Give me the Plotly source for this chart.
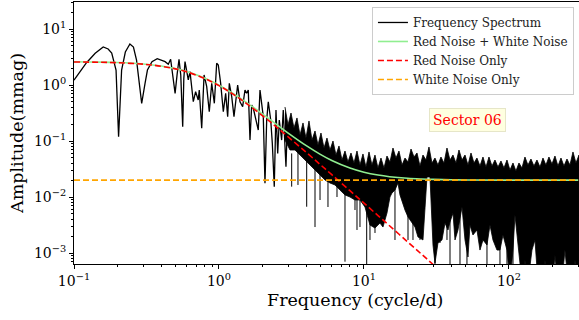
import plotly.graph_objects as go

# ---------------- data ----------------
# low/mid-frequency part of the amplitude spectrum (cycle/d, mmag)
spec_freq = [0.100, 0.122, 0.140, 0.159, 0.172, 0.182, 0.195, 0.203, 0.213, 0.226,
             0.243, 0.257, 0.270, 0.281, 0.293, 0.309, 0.321, 0.345, 0.375, 0.425,
             0.447, 0.464, 0.480, 0.498, 0.515, 0.530, 0.545, 0.562, 0.572, 0.583,
             0.614, 0.631, 0.665, 0.690, 0.719, 0.731, 0.760, 0.789, 0.823, 0.857,
             0.891, 0.929, 0.964, 0.989, 1.027, 1.071, 1.112, 1.148, 1.178, 1.224,
             1.269, 1.310, 1.345, 1.396, 1.456, 1.511, 1.552, 1.592, 1.636, 1.681,
             1.725, 1.800, 1.866, 1.918, 1.970, 2.021, 2.076, 2.133, 2.188, 2.274,
             2.332, 2.406, 2.472, 2.541, 2.605, 2.705, 2.775, 2.897, 2.958]
spec_amp = [1.22, 2.50, 3.68, 4.77, 4.40, 3.73, 1.85, 0.119, 1.85, 3.88,
            5.40, 4.77, 2.79, 1.23, 0.471, 1.07, 1.85, 2.61, 2.95, 2.61,
            2.34, 2.88, 1.50, 0.71, 1.60, 2.88, 1.50, 0.18, 1.30, 2.61,
            1.23, 1.73, 0.503, 0.76, 0.539, 0.815, 0.169, 1.51, 0.933, 0.333,
            1.07, 0.471, 2.44, 2.28, 1.07, 0.333, 0.71, 0.272, 1.07, 0.618,
            0.272, 0.539, 1.00, 0.503, 0.41, 0.815, 0.71, 0.815, 0.104, 0.44,
            0.384, 0.237, 0.157, 0.815, 0.41, 0.272, 0.0176, 0.237, 0.503, 0.237,
            0.091, 0.0153, 0.358, 0.06, 0.237, 0.104, 0.358, 0.0348, 0.18]

# dense high-frequency part: upper edge of the black band (local maxima / minima of the peaks)
top_freq = [2.852, 2.992, 3.138, 3.290, 3.451, 3.620, 3.797, 3.981, 4.176, 4.379,
            4.595, 4.818, 5.051, 5.300, 5.557, 5.829, 6.113, 6.411, 6.724, 7.053,
            7.396, 7.757, 8.136, 8.531, 8.949, 9.385, 9.842, 10.32, 10.83, 11.35,
            11.91, 12.49, 13.10, 13.74, 14.41, 15.11, 15.85, 16.62, 17.43, 18.29,
            19.18, 20.12, 21.10, 22.13, 23.21, 24.33, 25.52, 26.77, 28.07, 29.44,
            30.88, 32.38, 33.96, 35.62, 37.36, 39.20, 41.10, 43.11, 45.21, 47.43,
            49.75, 52.16, 54.71, 57.38, 60.15, 63.10, 66.17, 69.40, 72.79, 76.35,
            80.08, 83.99, 88.09, 92.38, 96.87, 101.6, 106.6, 111.7, 117.2, 122.9,
            128.9, 135.2, 141.8, 148.7, 156.0, 163.6, 171.6, 179.9, 188.7, 198.0,
            207.6, 217.7, 228.4, 239.5, 251.2, 263.4, 276.3, 289.8, 304.0]
top_amp = [0.405, 0.193, 0.316, 0.171, 0.258, 0.128, 0.210, 0.113, 0.228, 0.104,
           0.151, 0.0849, 0.139, 0.0750, 0.113, 0.0691, 0.100, 0.0562, 0.0815, 0.0458,
           0.0663, 0.0422, 0.0611, 0.0405, 0.0663, 0.0373, 0.0587, 0.0343, 0.0637, 0.0373,
           0.0562, 0.0330, 0.0497, 0.0330, 0.0540, 0.0422, 0.0750, 0.0497, 0.0663, 0.0373,
           0.0497, 0.0422, 0.0720, 0.0518, 0.0611, 0.0358, 0.0562, 0.0458, 0.0781, 0.0405,
           0.0497, 0.0373, 0.0518, 0.0405, 0.0750, 0.0458, 0.0562, 0.0405, 0.0691, 0.0458,
           0.0562, 0.0373, 0.0611, 0.0405, 0.0497, 0.0358, 0.0518, 0.0343, 0.0518, 0.0358,
           0.0458, 0.0343, 0.0440, 0.0330, 0.0458, 0.0303, 0.0405, 0.0291, 0.0405, 0.0330,
           0.0518, 0.0373, 0.0477, 0.0358, 0.0458, 0.0343, 0.0497, 0.0373, 0.0518, 0.0388,
           0.0540, 0.0358, 0.0497, 0.0358, 0.0477, 0.0373, 0.0637, 0.0405, 0.0562]

# lower edge of the black band
bot_freq = [2.852, 3.088, 3.343, 3.620, 3.920, 4.244, 4.595, 4.975, 5.383, 5.829,
            6.310, 6.832, 7.396, 8.008, 8.670, 9.385, 10.16, 11.00, 11.91, 12.89,
            13.52, 14.41, 15.11, 15.60, 16.36, 17.16, 17.71, 18.29, 19.18, 20.12,
            20.76, 21.77, 22.48, 23.58, 24.33, 25.52, 26.34, 27.20, 28.52, 29.92,
            30.88, 32.38, 34.51, 36.20, 37.96, 39.20, 41.10, 42.44, 44.50, 45.94,
            47.43, 49.75, 52.16, 53.83, 56.45, 60.15, 63.10, 66.17, 70.52, 73.96,
            77.56, 82.65, 86.70, 90.90, 96.87, 101.6, 106.6, 110.0, 115.4, 122.9,
            128.9, 135.2, 144.1, 151.1, 158.5, 168.9, 177.1, 185.8, 198.0, 207.6,
            217.7, 232.1, 243.3, 255.3, 272.0, 285.2, 304.0]
bot_amp = [0.104, 0.0691, 0.0691, 0.0562, 0.0458, 0.0373, 0.0303, 0.0247, 0.0201, 0.0178,
           0.0164, 0.0133, 0.0109, 0.0100, 0.00884, 0.00884, 0.00663, 0.00316, 0.00279, 0.00343,
           0.00291, 0.00518, 0.0100, 0.0118, 0.0133, 0.0178, 0.0109, 0.00884, 0.00586, 0.00440,
           0.00388, 0.00330, 0.00291, 0.00193, 0.00185, 0.00171, 0.00518, 0.0228, 0.0228, 0.00139,
           0.00066, 0.00151, 0.00171, 0.00343, 0.00258, 0.00358, 0.00518, 0.00171, 0.00258, 0.00388,
           0.00663, 0.00171, 0.00085, 0.00316, 0.00210, 0.00258, 0.00113, 0.00171, 0.00139, 0.00316,
           0.00171, 0.00113, 0.00113, 0.00210, 0.00113, 0.0003, 0.00113, 0.00477, 0.00171, 0.0003,
           0.00075, 0.0003, 0.00113, 0.00171, 0.0003, 0.0003, 0.00075, 0.0003, 0.0003, 0.00092,
           0.0003, 0.0003, 0.00113, 0.0003, 0.0003, 0.00075, 0.0003]

# deep narrow minima of the spectrum
spike_freq = [3.172, 3.506, 4.026, 4.595, 4.975, 5.646, 6.514, 7.396, 8.670, 8.95,
              9.385, 10.44, 11.00, 11.91, 16.36, 20.12, 21.77, 24.33, 30.88, 33.43,
              37.36, 39.20, 45.94, 51.32, 70.52, 86.70, 96.87, 106.6, 128.9, 177.1,
              207.6, 285.2]
spike_top = [0.06, 0.07, 0.05, 0.04, 0.04, 0.03, 0.03, 0.03, 0.03, 0.03,
             0.03, 0.03, 0.03, 0.03, 0.03, 0.03, 0.03, 0.03, 0.03, 0.03,
             0.03, 0.03, 0.03, 0.03, 0.03, 0.03, 0.03, 0.03, 0.03, 0.03,
             0.03, 0.03]
spike_low = [0.0153, 0.0164, 0.00671, 0.00291, 0.00884, 0.00663, 0.0100, 0.0007, 0.00586, 0.00258,
             0.00291, 0.0003, 0.00171, 0.00228, 0.00171, 0.00171, 0.00171, 0.00171, 0.0003, 0.00151,
             0.00171, 0.0003, 0.0003, 0.0003, 0.0003, 0.0003, 0.0003, 0.0003, 0.0003, 0.0003,
             0.0003, 0.0003]

# noise models
model_freq = [0.1, 0.15, 0.2, 0.3, 0.4, 0.5, 0.6, 0.8, 1.0, 1.25, 1.5, 2, 2.5, 3, 4, 5, 6, 8,
              10, 12.5, 15, 20, 25, 30, 40, 50, 100, 300]
red_noise = [2.578, 2.546, 2.497, 2.353, 2.161, 1.942, 1.715, 1.300, 0.973, 0.686, 0.4957,
             0.2818, 0.1763, 0.1187, 0.0626, 0.03785, 0.02501, 0.01297, 0.007773, 0.004660,
             0.003067, 0.001583, 0.000948, 0.000623, 0.0003216, 0.0001925, 3.91e-5, 3.12e-6]
red_white = [2.598, 2.566, 2.517, 2.373, 2.181, 1.962, 1.735, 1.320, 0.993, 0.706, 0.5157,
             0.3018, 0.1963, 0.1387, 0.0826, 0.05785, 0.04501, 0.03297, 0.02777, 0.02466,
             0.02307, 0.02158, 0.02095, 0.02062, 0.02032, 0.02019, 0.02004, 0.02]
white_freq = [0.1, 300]
white_noise = [0.02, 0.02]

x_tickvals = [0.1, 1, 10, 100]
x_ticktext = ["10<sup>\u22121</sup>", "10<sup>0</sup>", "10<sup>1</sup>", "10<sup>2</sup>"]
y_tickvals = [1e-3, 1e-2, 1e-1, 1, 10]
y_ticktext = ["10<sup>\u22123</sup>", "10<sup>\u22122</sup>", "10<sup>\u22121</sup>",
              "10<sup>0</sup>", "10<sup>1</sup>"]

FONT = "DejaVu Serif"

fig = go.Figure()

# band (dense part of spectrum)
fig.add_trace(go.Scatter(
    x=top_freq + bot_freq[::-1], y=top_amp + bot_amp[::-1],
    mode="lines", fill="toself", fillcolor="black",
    line=dict(color="black", width=0.8), showlegend=False, hoverinfo="skip"))

# spikes
sx, sy = [], []
for f, t, l in zip(spike_freq, spike_top, spike_low):
    sx += [f, f, None]
    sy += [t, l, None]
fig.add_trace(go.Scatter(x=sx, y=sy, mode="lines", line=dict(color="black", width=1),
                         showlegend=False, hoverinfo="skip"))

fig.add_trace(go.Scatter(x=spec_freq, y=spec_amp, mode="lines", name="Frequency Spectrum",
                         line=dict(color="black", width=1.3), legendrank=1))
fig.add_trace(go.Scatter(x=model_freq, y=red_white, mode="lines", name="Red Noise + White Noise",
                         line=dict(color="#90ee90", width=1.6, shape="spline"), legendrank=2))
fig.add_trace(go.Scatter(x=model_freq, y=red_noise, mode="lines", name="Red Noise Only",
                         line=dict(color="red", width=1.6, dash="6px,3px", shape="spline"),
                         legendrank=3))
fig.add_trace(go.Scatter(x=white_freq, y=white_noise, mode="lines", name="White Noise Only",
                         line=dict(color="orange", width=1.6, dash="6px,3px"), legendrank=4))

axis_common = dict(type="log", showline=True, linecolor="black", linewidth=1, mirror=True,
                   ticks="outside", ticklen=4, tickcolor="black", showgrid=False, zeroline=False,
                   tickfont=dict(family=FONT, size=14, color="black"))

minor_x = [m * 10 ** e for e in (-1, 0, 1) for m in range(2, 10)] + [200, 300]
minor_y = [m * 10 ** e for e in (-4, -3, -2, -1, 0, 1) for m in range(2, 10)]

fig.update_xaxes(range=[-1, 2.483], tickvals=x_tickvals, ticktext=x_ticktext,
                 minor=dict(ticks="outside", ticklen=2, tickcolor="black", tickvals=minor_x),
                 **axis_common)
fig.update_yaxes(range=[-3.196, 1.482], tickvals=y_tickvals, ticktext=y_ticktext,
                 minor=dict(ticks="outside", ticklen=2, tickcolor="black", tickvals=minor_y),
                 **axis_common)

fig.update_layout(
    width=579, height=320,
    margin=dict(l=74, r=0, t=2, b=56),
    plot_bgcolor="white", paper_bgcolor="white",
    font=dict(family=FONT, color="black"),
    showlegend=True,
    legend=dict(x=0.99, y=0.981, xanchor="right", yanchor="top",
                bgcolor="rgba(255,255,255,0.85)", bordercolor="#cccccc", borderwidth=1,
                font=dict(family=FONT, size=12, color="#222222"), itemwidth=30,
                tracegroupgap=0),
    annotations=[
        dict(text="Sector 06", x=0.780, y=0.550, xref="paper", yref="paper",
             xanchor="center", yanchor="middle",
             showarrow=False, font=dict(family=FONT, size=14, color="red"),
             bgcolor="#ffffe0", bordercolor="#e6e6c8", borderwidth=1, borderpad=3),
        dict(text="Frequency (cycle/d)", x=0.556, y=-0.138, xref="paper", yref="paper",
             xanchor="center", yanchor="middle", showarrow=False,
             font=dict(family=FONT, size=17.5, color="black")),
        dict(text="Amplitude(mmag)", x=-0.113, y=0.5, xref="paper", yref="paper",
             xanchor="center", yanchor="middle", textangle=-90, showarrow=False,
             font=dict(family=FONT, size=17.5, color="black")),
    ],
)

fig.write_html("out.html")
